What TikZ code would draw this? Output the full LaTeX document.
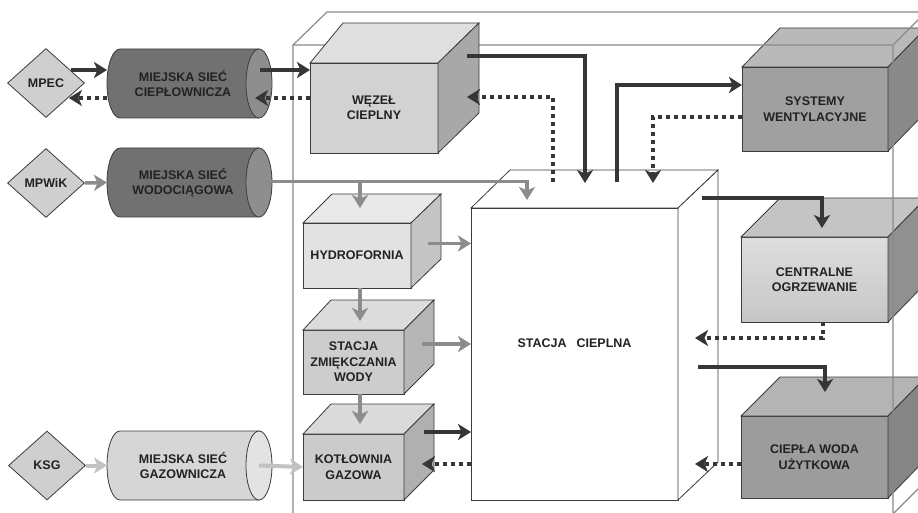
\documentclass[tikz,border=0pt]{standalone}
\usepackage{fontspec}
\setmainfont{Liberation Sans}
\usetikzlibrary{arrows.meta,calc,shapes.geometric}
\definecolor{txt}{HTML}{222222}
\definecolor{edgec}{HTML}{3C3C3C}
\definecolor{outerc}{HTML}{8A8A8A}
\definecolor{arrd}{HTML}{363636}
\definecolor{arrg}{HTML}{8C8C8C}
\definecolor{arrl}{HTML}{C2C2C2}
\definecolor{diaf}{HTML}{CFCFCF}
\definecolor{cyldb}{HTML}{717171}
\definecolor{cylde}{HTML}{8E8E8E}
\definecolor{cyllb}{HTML}{D6D6D6}
\definecolor{cylle}{HTML}{E3E3E3}
\definecolor{wzf}{HTML}{D2D2D2}
\definecolor{wzt}{HTML}{DFDFDF}
\definecolor{wzs}{HTML}{A8A8A8}
\definecolor{syf}{HTML}{A0A0A0}
\definecolor{syt}{HTML}{B9B9B9}
\definecolor{sys}{HTML}{8A8A8A}
\definecolor{cofa}{HTML}{DEDEDE}
\definecolor{cofb}{HTML}{C6C6C6}
\definecolor{cot}{HTML}{C4C4C4}
\definecolor{cos}{HTML}{909090}
\definecolor{cwf}{HTML}{9C9C9C}
\definecolor{cwt}{HTML}{B4B4B4}
\definecolor{cws}{HTML}{858585}
\definecolor{hyf}{HTML}{E2E2E2}
\definecolor{hyt}{HTML}{E9E9E9}
\definecolor{hys}{HTML}{C4C4C4}
\definecolor{szf}{HTML}{CDCDCD}
\definecolor{szt}{HTML}{DCDCDC}
\definecolor{szs}{HTML}{B6B6B6}
\definecolor{kgf}{HTML}{CBCBCB}
\definecolor{kgt}{HTML}{DADADA}
\definecolor{kgs}{HTML}{B0B0B0}
\pgfdeclarelayer{back}
\pgfsetlayers{back,main}
\newcommand\cubefaces[6]{%
  \path[fill=#5, draw=edgec, line width=0.8pt] (#1.north west) -- ++(#2,-#4) -- ($(#1.north east)+(#3,-#4)$) -- (#1.north east) -- cycle;
  \path[fill=#6, draw=edgec, line width=0.8pt] (#1.north east) -- ++(#3,-#4) -- ($(#1.south east)+(#3,-#4)$) -- (#1.south east) -- cycle;
}
\newcommand\cylfaces[3]{%
  \begin{pgfonlayer}{back}
  \path[fill=#2, draw=edgec, line width=0.8pt] ($(#1.north west)+(13,0)$) -- (#1.north east) -- (#1.south east) -- ($(#1.south west)+(13,0)$) arc[start angle=90, end angle=270, x radius=13, y radius=34.5] -- cycle;
  \path[fill=#3, draw=edgec, line width=0.8pt] (#1.east) ellipse[x radius=13, y radius=34.5];
  \end{pgfonlayer}
}
\begin{document}
\begin{tikzpicture}[x=1pt,y=-1pt,
  lab/.style={font=\fontsize{12.5}{15.5}\selectfont\bfseries, text=txt, align=center},
  face/.style={lab, rectangle, draw=edgec, line width=0.8pt, inner sep=0pt, outer sep=0pt},
  dia/.style={lab, diamond, draw=edgec, line width=0.8pt, fill=diaf, inner sep=0pt, minimum width=77pt, minimum height=69pt},
  cyltext/.style={lab, inner sep=0pt, outer sep=0pt, minimum width=152pt, minimum height=69pt},
  arrtip/.style={-{Stealth[length=13pt,width=16pt,inset=3.5pt]}},
  darr/.style={draw=arrd, line width=4pt, arrtip},
  dotarr/.style={darr, dash pattern=on 4pt off 4pt},
  garr/.style={draw=arrg, line width=3.5pt, arrtip},
  lgarr/.style={draw=arrl, line width=4pt, arrtip},
  outerline/.style={draw=outerc, line width=1.2pt}
]
\useasboundingbox (0,0) rectangle (918,513);
\clip (0,0) rectangle (918,513);
\begin{pgfonlayer}{back}
\fill[white] (0,0) rectangle (918,513);
\end{pgfonlayer}

% right boxes
\node[face, fill=syf, minimum width=146pt, minimum height=84pt] (systemy) at (815,109) {SYSTEMY\\WENTYLACYJNE};
\cubefaces{systemy}{38}{38}{39}{syt}{sys}
\node[face, top color=cofa, bottom color=cofb, minimum width=147pt, minimum height=85pt] (centralne) at (814.5,279.5) {CENTRALNE\\OGRZEWANIE};
\cubefaces{centralne}{39}{38}{39}{cot}{cos}
\node[face, fill=cwf, minimum width=147pt, minimum height=82pt] (ciepla) at (814.5,457) {CIEPŁA WODA\\UŻYTKOWA};
\cubefaces{ciepla}{39}{38}{39}{cwt}{cws}

% outer box
\draw[outerline] (293,520) -- (293,45) -- (893,45) -- (893,514) -- (930,477);
\draw[outerline] (293,45) -- (327,12) -- (930,12);
\draw[outerline] (893,45) -- (928,10);

% central station
\node[face, fill=white, minimum width=207pt, minimum height=292pt] (stacja) at (574.5,354) {};
\cubefaces{stacja}{39}{40}{38}{white}{white}
\node[lab] (stacjatxt) at (574.5,343) {STACJA\hspace{0.8em}CIEPLNA};

% left boxes
\node[face, fill=wzf, minimum width=128pt, minimum height=90pt] (wezel) at (374,108) {WĘZEŁ\\CIEPLNY};
\cubefaces{wezel}{33}{41}{40}{wzt}{wzs}
\node[face, fill=hyf, minimum width=108pt, minimum height=65pt] (hydro) at (357,255.5) {HYDROFORNIA};
\cubefaces{hydro}{29}{30}{29}{hyt}{hys}
\node[face, fill=szf, minimum width=101pt, minimum height=64pt] (zmiek) at (353.5,362) {STACJA\\ZMIĘKCZANIA\\WODY};
\cubefaces{zmiek}{28}{30}{30}{szt}{szs}
\node[face, fill=kgf, minimum width=101pt, minimum height=66pt] (kotl) at (353.5,467) {KOTŁOWNIA\\GAZOWA};
\cubefaces{kotl}{28}{30}{30}{kgt}{kgs}

% diamonds
\node[dia] (mpec) at (46,83) {MPEC};
\node[dia] (mpwik) at (46,183) {MPWiK};
\node[dia] (ksg) at (47,465.5) {KSG};

% cylinders
\node[cyltext] (cyl1) at (183,83.5) {MIEJSKA SIEĆ\\CIEPŁOWNICZA};
\cylfaces{cyl1}{cyldb}{cylde}
\node[cyltext] (cyl2) at (183,182.5) {MIEJSKA SIEĆ\\WODOCIĄGOWA};
\cylfaces{cyl2}{cyldb}{cylde}
\node[cyltext] (cyl3) at (183,465.5) {MIEJSKA SIEĆ\\GAZOWNICZA};
\cylfaces{cyl3}{cyllb}{cylle}

% heat network
\draw[darr] ($(mpec.east)+(-14,-13)$) coordinate (a1) -- (a1 -| cyl1.west);
\draw[dotarr] ($(cyl1.west)+(0,14.5)$) -- ($(mpec.east)+(-16,15)$);
\draw[darr] ($(cyl1.east)+(1,-13.5)$) coordinate (a3) -- (a3 -| wezel.west);
\draw[dotarr] ($(wezel.west)+(0,-10)$) -- ($(cyl1.east)+(-4,14.5)$);
\draw[darr] ($(wezel.north east)+(29,-7)$) -| ($(stacja.north west)+(114,-25)$);
\draw[dotarr] ($(stacja.north west)+(82,-26)$) |- ($(wezel.east)+(29,-11)$);
\draw[darr] ($(stacja.north west)+(146,-26)$) |- ($(systemy.west)+(0,-24)$);
\draw[dotarr] ($(systemy.west)+(0,8)$) -| ($(stacja.north west)+(182,-25)$);

% water
\draw[garr] (mpwik.east) -- (cyl2.west);
\draw[garr] ($(cyl2.east)+(1,-1)$) -| ($(stacja.north west)+(56,-8)$);
\coordinate (hj) at ($(hydro.north)+(3,-15)$);
\draw[garr] ($(cyl2.east -| hj)+(0,-1)$) -- (hj);
\draw[garr] ($(hydro.east)+(17,-12)$) coordinate (h1) -- (h1 -| stacja.west);
\draw[garr] ($(hydro.south)+(3,0)$) -- ($(zmiek.north)+(6.5,-9)$);
\draw[garr] ($(zmiek.east)+(18,-18)$) coordinate (z1) -- (z1 -| stacja.west);
\draw[garr] ($(zmiek.south)+(6.5,0)$) -- ($(kotl.north)+(6.5,-10)$);

% gas
\draw[lgarr] (ksg.east) -- (cyl3.west);
\draw[lgarr] (cyl3.east) -- (kotl.west);
\draw[darr] ($(kotl.east)+(20,-35)$) coordinate (k1) -- (k1 -| stacja.west);
\draw[dotarr] ($(stacja.west)+(0,110)$) -- ($(kotl.east)+(18,-3)$);

% heating and hot water
\draw[darr] ($(stacja.north east)+(24,-10)$) -| ($(centralne.north)+(7.5,-9)$);
\draw[dotarr] ($(centralne.south)+(8.5,0)$) |- ($(stacja.east)+(17,-16)$);
\draw[darr] ($(stacja.east)+(20,13)$) -| ($(ciepla.north)+(10.5,-24)$);
\draw[dotarr] ($(ciepla.west)+(0,7)$) -- ($(stacja.east)+(17,110)$);
\end{tikzpicture}
\end{document}
